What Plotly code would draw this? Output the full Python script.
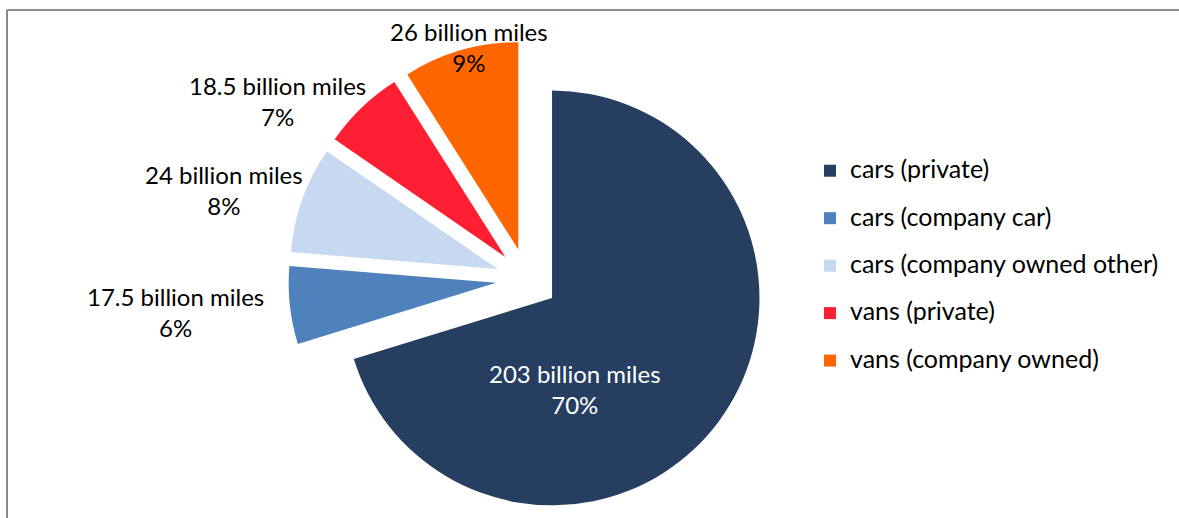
import plotly.graph_objects as go

# Annual vehicle miles by vehicle / ownership type
categories = [
    "cars (private)",
    "cars (company car)",
    "cars (company owned other)",
    "vans (private)",
    "vans (company owned)",
]
miles_billion = [203, 17.5, 24, 18.5, 26]
share_labels = ["70%", "6%", "8%", "7%", "9%"]

colors = ["#263F60", "#4F81BD", "#C6D9F1", "#FF1F32", "#FF6600"]

W, H = 1179, 518
FONT = "Lato"

# legend entries: larger legend font sets the row pitch, the span sets the glyph size
legend_names = [
    f'<span style="font-size:25px;baseline-shift:6px">{c}</span>' for c in categories
]

fig = go.Figure(
    go.Pie(
        labels=legend_names,
        values=miles_billion,
        sort=False,
        direction="clockwise",
        rotation=0,
        pull=[0.15] * len(categories),
        marker=dict(colors=colors, line=dict(width=0)),
        textinfo="none",
        hoverinfo="skip",
        domain=dict(x=[0.2, 0.694], y=[0.0, 0.921]),
    )
)

# data labels: "<value> billion miles" above the share
label_pos = [(575, 389), (175, 312), (224, 190), (277, 101), (469, 47)]
for i, (v, s, (px, py)) in enumerate(zip(miles_billion, share_labels, label_pos)):
    fig.add_annotation(
        x=px / W,
        y=1 - py / H,
        xref="paper",
        yref="paper",
        text=f"{v:g} billion miles<br>{s}",
        showarrow=False,
        xanchor="center",
        yanchor="middle",
        align="center",
        font=dict(family=FONT, size=24, color="white" if i == 0 else "black"),
    )

# chart-area frame (left and top edges)
frame = "#8A8A8A"
fig.add_shape(type="line", xref="paper", yref="paper",
              x0=7 / W, x1=7 / W, y0=0, y1=1 - 10 / H,
              line=dict(color=frame, width=2))
fig.add_shape(type="line", xref="paper", yref="paper",
              x0=7 / W, x1=1, y0=1 - 10 / H, y1=1 - 10 / H,
              line=dict(color=frame, width=2))

fig.update_layout(
    width=W,
    height=H,
    margin=dict(l=0, r=0, t=0, b=0),
    paper_bgcolor="white",
    plot_bgcolor="white",
    font=dict(family=FONT, color="black"),
    showlegend=True,
    legend=dict(
        x=810 / W,
        y=1 - 142 / H,
        xanchor="left",
        yanchor="top",
        font=dict(family=FONT, size=34.2, color="black"),
        bgcolor="rgba(0,0,0,0)",
        borderwidth=0,
    ),
)

fig.write_html("out.html")
